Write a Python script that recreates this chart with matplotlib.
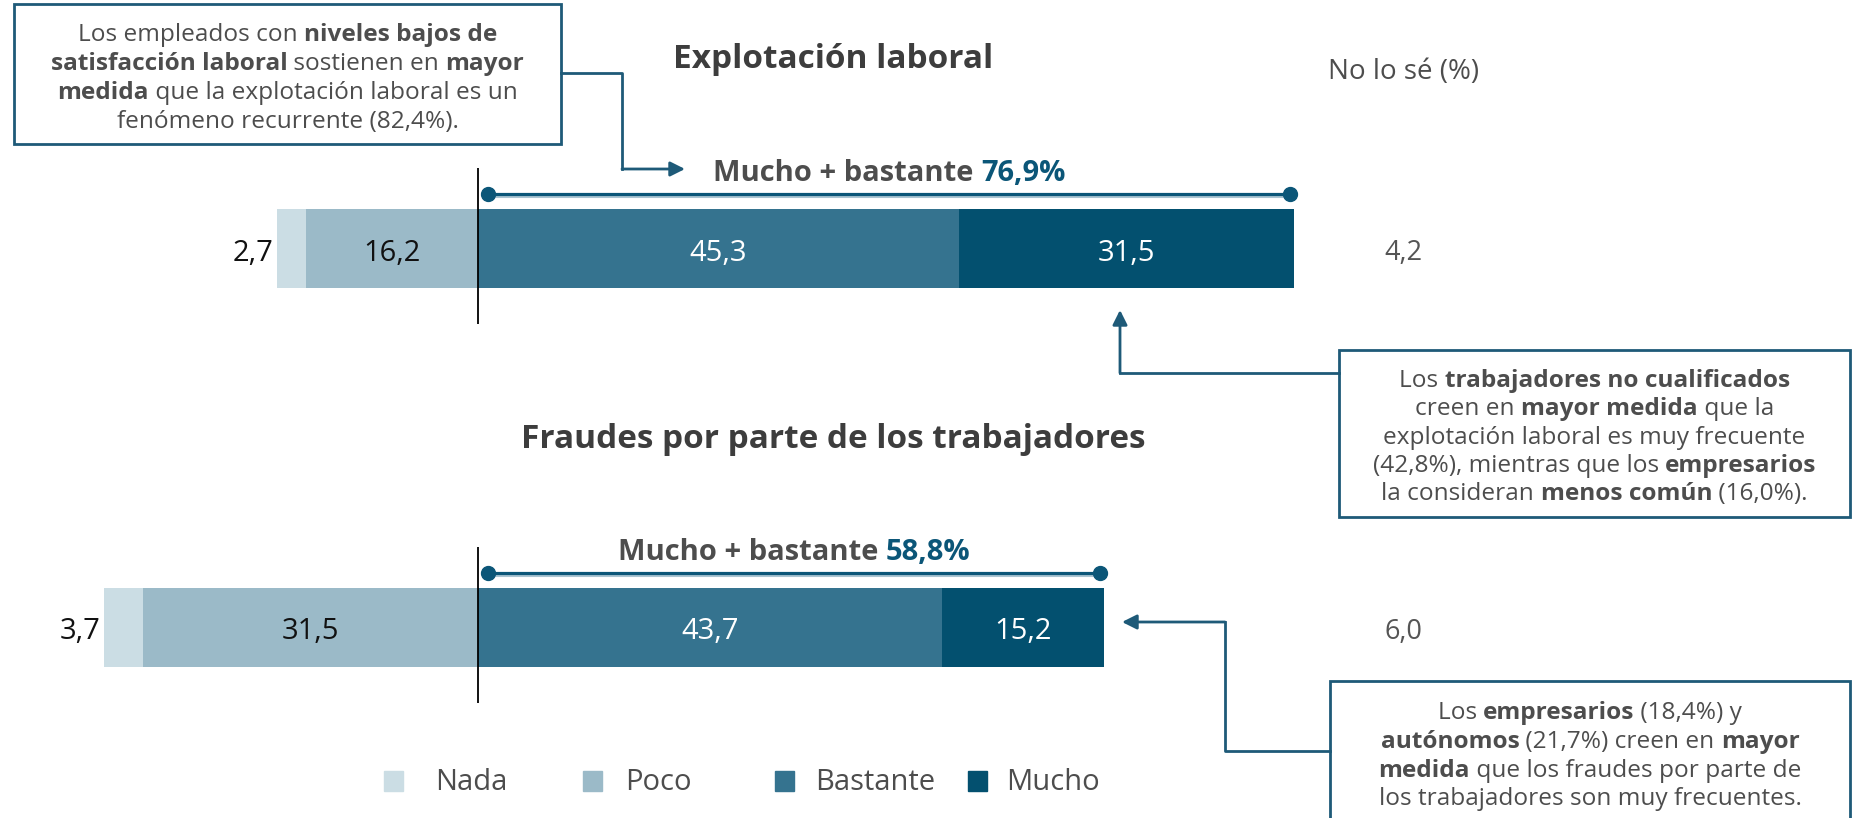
import numpy as np
import matplotlib.pyplot as plt
from matplotlib.patches import Rectangle, FancyArrowPatch
from matplotlib.lines import Line2D
from matplotlib.transforms import IdentityTransform

plt.rcParams['font.family'] = ['Open Sans', 'DejaVu Sans']

W, H = 1852, 818

categories = ['Explotación laboral', 'Fraudes por parte de los trabajadores']
nada = np.array([2.7, 3.7])
poco = np.array([16.2, 31.5])
bastante = np.array([45.3, 43.7])
mucho = np.array([31.5, 15.2])
no_lo_se = np.array([4.2, 6.0])
mucho_bastante = ['76,9%', '58,8%']
labels = ['Nada', 'Poco', 'Bastante', 'Mucho']
colors = ['#cbdde4', '#9bbac8', '#35738f', '#03506f']

GRAY = '#4d4d4d'
DARK = '#0b5678'
BORDER = '#1e5a78'

box_texts = [
    ["Los empleados con **niveles bajos de**",
     "**satisfacción laboral** sostienen en **mayor**",
     "**medida** que la explotación laboral es un",
     "fenómeno recurrente (82,4%)."],
    ["Los **trabajadores no cualificados**",
     "creen en **mayor medida** que la",
     "explotación laboral es muy frecuente",
     "(42,8%), mientras que los **empresarios**",
     "la consideran **menos común** (16,0%)."],
    ["Los **empresarios** (18,4%) y",
     "**autónomos** (21,7%) creen en **mayor**",
     "**medida** que los fraudes por parte de",
     "los trabajadores son muy frecuentes."],
]


def fmt(v):
    return f'{v:.1f}'.replace('.', ',')


fig = plt.figure(figsize=(W / 100, H / 100), dpi=100)
ax = fig.add_axes([0, 0, 1, 1])
zero_px, unit_px = 478, 10.62
ax.set_xlim(-zero_px / unit_px, (W - zero_px) / unit_px)
ax.set_ylim(1.503, -0.656)
ax.axis('off')
renderer = fig.canvas.get_renderer()
ident = IdentityTransform()

# bars
y = np.arange(len(categories))
bh = 0.208
ax.barh(y, nada, left=-(poco + nada), height=bh, color=colors[0])
ax.barh(y, poco, left=-poco, height=bh, color=colors[1])
ax.barh(y, bastante, left=0, height=bh, color=colors[2])
ax.barh(y, mucho, left=bastante, height=bh, color=colors[3])
ax.vlines(np.zeros(len(y)), y - 0.212, y + 0.2, color='black', lw=1.3)

num_size = 21
dy = 0.012
for i in y:
    ax.text(-(poco[i] + nada[i]) - 0.35, i + dy, fmt(nada[i]), ha='right', va='center',
            fontsize=num_size, color='#111111')
    ax.text(-poco[i] / 2, i + dy, fmt(poco[i]), ha='center', va='center',
            fontsize=num_size, color='#111111')
    ax.text(bastante[i] / 2, i + dy, fmt(bastante[i]), ha='center', va='center',
            fontsize=num_size, color='white')
    ax.text(bastante[i] + mucho[i] / 2, i + dy, fmt(mucho[i]), ha='center', va='center',
            fontsize=num_size, color='white')
    ax.text(1403 / W, i + dy, fmt(no_lo_se[i]), transform=ax.get_yaxis_transform(),
            ha='center', va='center', fontsize=19.5, color='#555555')


def text_width(s, size, weight):
    t = fig.text(0, 0, '|' + s + '|', fontsize=size, fontweight=weight)
    w = t.get_window_extent(renderer).width
    t.set_text('||')
    w -= t.get_window_extent(renderer).width
    t.remove()
    return w


def rich_line(xc, yc, segments, size):
    # xc, yc: pixel centre measured from the top-left corner
    widths = [text_width(s, size, wt) for s, wt, c in segments]
    cur = xc - sum(widths) / 2
    base = H - (yc + 0.36 * size * 100 / 72)
    for (s, wt, c), w in zip(segments, widths):
        fig.text(cur, base, s, transform=ident, fontsize=size, fontweight=wt,
                 color=c, ha='left', va='baseline')
        cur += w


def parse(line, color=GRAY):
    parts = line.split('**')
    return [(p, 'bold' if k % 2 else 'normal', color) for k, p in enumerate(parts) if p]


def data_px(x, yv):
    px, py = ax.transData.transform((x, yv))
    return px, H - py


# brackets "Mucho + bastante"
for i in y:
    x0, x1 = 0.9, bastante[i] + mucho[i] - 0.3
    yb = i - 0.143
    ax.plot([x0, x1], [yb + 0.006, yb + 0.006], color='#a9c4d1', lw=1.5)
    ax.plot([x0, x1], [yb, yb], color=DARK, lw=2.3, marker='o', ms=10)
    cx, cy = data_px((x0 + x1) / 2, i - 0.205)
    rich_line(cx, cy, [('Mucho + bastante ', 'bold', GRAY),
                       (mucho_bastante[i], 'bold', DARK)], 21)

# titles
fig.text(833 / W, 1 - 60 / H, categories[0], ha='center', va='center',
         fontsize=24, fontweight='bold', color='#3d3d3d')
fig.text(833 / W, 1 - 439 / H, categories[1], ha='center', va='center',
         fontsize=24, fontweight='bold', color='#3d3d3d')
fig.text(1404 / W, 1 - 72 / H, 'No lo sé (%)', ha='center', va='center',
         fontsize=20, color=GRAY)

# legend
sq_x = [384, 583, 775, 968]
lab_x = [435, 625, 815, 1006]
for lab, c, sx, lx in zip(labels, colors, sq_x, lab_x):
    fig.add_artist(Rectangle((sx, H - 791), 19, 20, transform=ident, color=c))
    fig.text(lx, H - 783, lab, transform=ident, ha='left', va='center',
             fontsize=21, color=GRAY)

# annotation boxes
boxes = [(14, 4, 561, 144), (1339, 350, 1850, 517), (1330, 681, 1850, 830)]
line_y = [[32, 61, 90, 119], [378, 406, 435, 463, 491], [710, 739, 768, 796]]
for (bx0, by0, bx1, by1), lines, ly in zip(boxes, box_texts, line_y):
    fig.add_artist(Rectangle((bx0, H - by1), bx1 - bx0, by1 - by0, transform=ident,
                             fill=False, ec=BORDER, lw=2))
    for line, yy in zip(lines, ly):
        rich_line((bx0 + bx1) / 2, yy, parse(line), 17.6)

# connectors
paths = [
    ([561, 622, 622], [73, 73, 169], (685, 169)),
    ([1339, 1120], [373, 373], (1120, 310)),
    ([1330, 1225, 1225], [751, 751, 622], (1122, 622)),
]
for xs, ys, tip in paths:
    fig.add_artist(Line2D(xs, [H - v for v in ys], transform=ident, color=BORDER, lw=2))
    fig.add_artist(FancyArrowPatch((xs[-1], H - ys[-1]), (tip[0], H - tip[1]),
                                   transform=ident, arrowstyle='-|>', mutation_scale=22,
                                   color=BORDER, lw=2, shrinkA=0, shrinkB=0))

fig.savefig('out.png', dpi=100)
